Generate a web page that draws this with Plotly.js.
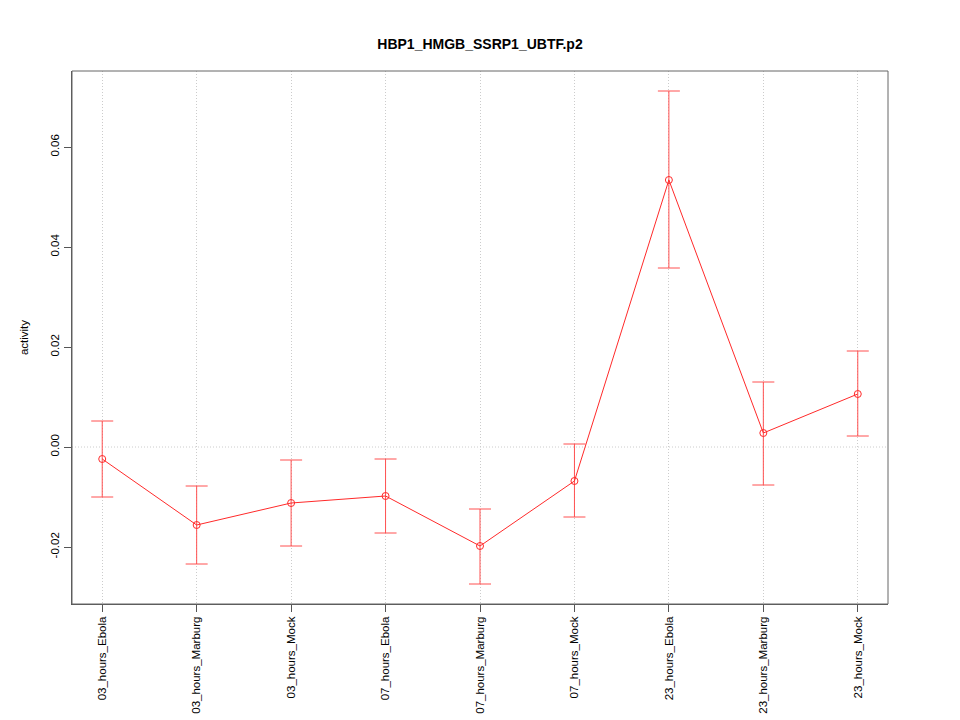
<!DOCTYPE html>
<html><head><meta charset="utf-8">
<script src="https://cdn.plot.ly/plotly-3.0.1.min.js"></script>
<style>body{margin:0;background:#fff}#c{width:960px;height:720px}</style>
</head><body><div id="c"></div>
<script>
const categories = ["03_hours_Ebola","03_hours_Marburg","03_hours_Mock","07_hours_Ebola","07_hours_Marburg","07_hours_Mock","23_hours_Ebola","23_hours_Marburg","23_hours_Mock"];
const activity = [-0.0024,-0.0156,-0.0112,-0.0098,-0.0198,-0.0068,0.0534,0.0028,0.0106];
const upper = [0.0052,-0.0078,-0.0026,-0.0024,-0.0124,0.0006,0.0712,0.0130,0.0192];
const lower = [-0.0100,-0.0234,-0.0198,-0.0172,-0.0274,-0.0140,0.0358,-0.0076,0.0022];
const yTicks = [-0.02,0.00,0.02,0.04,0.06];
const yTickText = ["-0.02","0.00","0.02","0.04","0.06"];

const xIdx = categories.map((_, i) => i);
const trace = {
  x: xIdx, y: activity, type: 'scatter', mode: 'lines+markers',
  line: {color: '#ff2a2a', width: 1},
  marker: {symbol: 'circle-open', size: 7, color: '#ff2a2a', line: {width: 1}},
  error_y: {type: 'data', symmetric: false,
    array: upper.map((u, i) => u - activity[i]),
    arrayminus: activity.map((v, i) => v - lower[i]),
    color: '#ff5050', thickness: 1, width: 11},
  hoverinfo: 'skip'
};
const font = {family: 'Liberation Sans, Arial, sans-serif', color: '#000'};
const layout = {
  width: 960, height: 720,
  margin: {l: 72, r: 72, t: 71, b: 116},
  paper_bgcolor: '#fff', plot_bgcolor: '#fff',
  showlegend: false,
  font: Object.assign({size: 12}, font),
  title: {text: '<b>HBP1_HMGB_SSRP1_UBTF.p2</b>', x: 0.5, xanchor: 'center', y: 1 - 44/720, yanchor: 'middle', font: Object.assign({size: 14}, font)},
  xaxis: {
    range: [-0.32, 8.32], tickmode: 'array', tickvals: xIdx, ticktext: categories,
    tickangle: -90, ticks: 'outside', ticklen: 7, tickcolor: '#555', tickfont: Object.assign({size: 11.5}, font),
    showgrid: true, gridcolor: '#cccccc', griddash: '1px,2px', gridwidth: 1,
    zeroline: false, showline: true, linecolor: '#555', linewidth: 1, mirror: false
  },
  yaxis: {
    range: [-0.0314, 0.0752], tickmode: 'array', tickvals: yTicks, ticktext: yTickText,
    tickangle: -90, ticks: 'outside', ticklen: 7, tickcolor: '#555', tickfont: Object.assign({size: 11.5}, font),
    showgrid: false, zeroline: false, showline: true, linecolor: '#555', linewidth: 1,
    title: {text: 'activity', font: Object.assign({size: 11.5}, font), standoff: 18}
  },
  shapes: [
    {type: 'line', xref: 'paper', yref: 'y', x0: 0, x1: 1, y0: 0, y1: 0, line: {color: '#cccccc', width: 1, dash: '1px,2px'}, layer: 'below'},
    {type: 'rect', xref: 'paper', yref: 'paper', x0: 0, x1: 1, y0: 0, y1: 1, line: {color: '#666', width: 1}}
  ]
};
Plotly.newPlot('c', [trace], layout, {staticPlot: true});
</script></body></html>
